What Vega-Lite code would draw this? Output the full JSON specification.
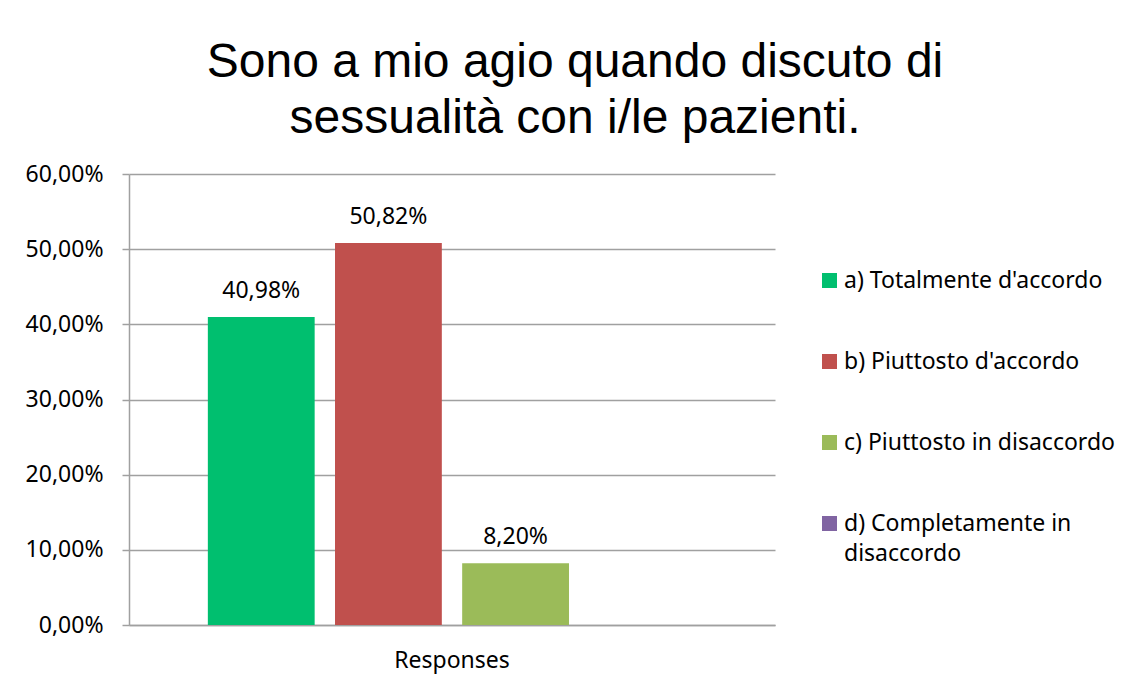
{
  "$schema": "https://vega.github.io/schema/vega-lite/v6.json",
  "width": 646,
  "height": 451,
  "autosize": {"type": "none"},
  "padding": {"left": 129, "top": 174, "right": 357, "bottom": 62},
  "background": "white",
  "config": {
    "locale": {"number": {"decimal": ",", "thousands": ".", "grouping": [3], "currency": ["", "\u00a0€"]}},
    "view": {"stroke": null},
    "font": "Noto Sans"
  },
  "title": {
    "text": ["Sono a mio agio quando discuto di", "sessualità con i/le pazienti."],
    "font": "Liberation Sans",
    "fontSize": 48,
    "fontWeight": "normal",
    "color": "#000000",
    "anchor": "middle",
    "dx": 123,
    "lineHeight": 56,
    "offset": 20
  },
  "data": {
    "values": [
      {"group": "Responses", "category": "a) Totalmente d'accordo", "value": 0.4098},
      {"group": "Responses", "category": "b) Piuttosto d'accordo", "value": 0.5082},
      {"group": "Responses", "category": "c) Piuttosto in disaccordo", "value": 0.082},
      {"group": "Responses", "category": "d) Completamente in disaccordo", "value": 0}
    ]
  },
  "encoding": {
    "x": {
      "field": "group",
      "type": "nominal",
      "scale": {"paddingInner": 0, "paddingOuter": 0},
      "axis": {
        "title": null,
        "labelAngle": 0,
        "ticks": false,
        "labelFontSize": 23,
        "labelColor": "#000000",
        "labelPadding": 24,
        "domainColor": "#A0A0A0",
        "domainWidth": 1.5
      }
    },
    "xOffset": {
      "field": "category",
      "type": "nominal",
      "scale": {"paddingInner": 0.16, "paddingOuter": 0.62}
    },
    "y": {
      "field": "value",
      "type": "quantitative",
      "scale": {"domain": [0, 0.6]},
      "axis": {
        "title": null,
        "format": ".2%",
        "values": [0, 0.1, 0.2, 0.3, 0.4, 0.5, 0.6],
        "labelFontSize": 23,
        "labelColor": "#000000",
        "labelPadding": 19,
        "tickSize": 7,
        "tickColor": "#A0A0A0",
        "tickWidth": 1.5,
        "domainColor": "#A0A0A0",
        "domainWidth": 1.5,
        "grid": true,
        "gridColor": "#A0A0A0",
        "gridWidth": 1.5
      }
    }
  },
  "layer": [
    {
      "mark": {"type": "bar"},
      "encoding": {
        "color": {
          "field": "category",
          "type": "nominal",
          "scale": {
            "domain": ["a) Totalmente d'accordo", "b) Piuttosto d'accordo", "c) Piuttosto in disaccordo", "d) Completamente in disaccordo"],
            "range": ["#00BF6F", "#C0504D", "#9BBB59", "#8064A2"]
          },
          "legend": {
            "title": null,
            "orient": "none",
            "legendX": 689,
            "legendY": 95,
            "symbolType": "square",
            "symbolSize": 225,
            "symbolStrokeWidth": 0,
            "labelFontSize": 23,
            "labelColor": "#000000",
            "labelLimit": 400,
            "labelOffset": 3,
            "rowPadding": 57,
            "labelBaseline": "alphabetic",
            "labelExpr": "datum.label == 'd) Completamente in disaccordo' ? ['d) Completamente in', 'disaccordo'] : datum.label",
            "encode": {"labels": {"update": {"dy": {"value": 7}, "lineHeight": {"value": 30}}}}
          }
        }
      }
    },
    {
      "transform": [{"filter": "datum.value > 0"}],
      "mark": {"type": "text", "baseline": "alphabetic", "dy": -19, "fontSize": 23, "color": "#000000"},
      "encoding": {
        "text": {"field": "value", "type": "quantitative", "format": ".2%"}
      }
    }
  ]
}
